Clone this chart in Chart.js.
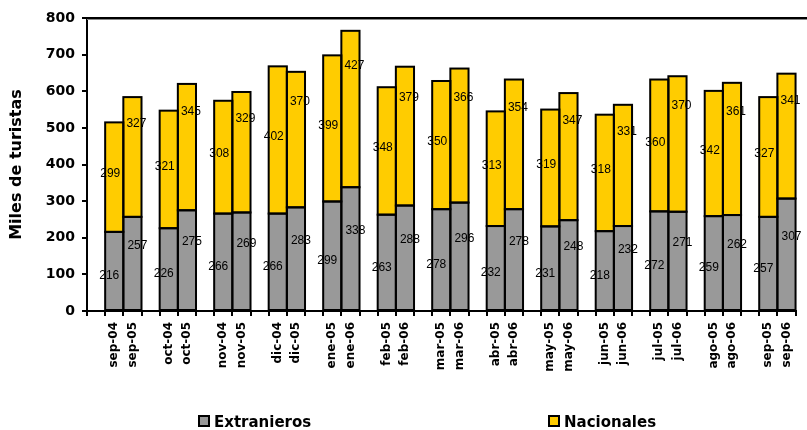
<!DOCTYPE html>
<html>
<head>
<meta charset="utf-8">
<script src="https://cdn.jsdelivr.net/npm/chart.js@4.4.1/dist/chart.umd.min.js"></script>
<style>
  html, body { margin: 0; padding: 0; background: #fff; }
  canvas { display: block; }
</style>
</head>
<body>
<canvas id="c" width="807" height="430"></canvas>
<script>
// Months compared year over year, two bars per month
const periodos = ['sep-04','sep-05','oct-04','oct-05','nov-04','nov-05','dic-04','dic-05',
  'ene-05','ene-06','feb-05','feb-06','mar-05','mar-06','abr-05','abr-06','may-05','may-06',
  'jun-05','jun-06','jul-05','jul-06','ago-05','ago-06','sep-05','sep-06'];

// Thousands of tourists
const extranjeros = [216,257,226,275,266,269,266,283,299,338,263,288,278,296,232,278,231,248,
  218,232,272,271,259,262,257,307];
const nacionales  = [299,327,321,345,308,329,402,370,399,427,348,379,350,366,313,354,319,347,
  318,331,360,370,342,361,327,341];

const seriesNames = ['Extranieros', 'Nacionales'];
const yMin = 0, yMax = 800, yStep = 100;

const GREY = '#999999', YELLOW = '#FFCC00';

// Each month pair is preceded by an empty slot so the groups stand apart
const slots = [], extSlots = [], nacSlots = [], pairPos = [];
for (let i = 0; i < periodos.length; i += 2) {
  slots.push(''); extSlots.push(null); nacSlots.push(null); pairPos.push(-1);
  for (let k = 0; k < 2; k++) {
    slots.push(periodos[i + k]);
    extSlots.push(extranjeros[i + k]);
    nacSlots.push(nacionales[i + k]);
    pairPos.push(k);
  }
}

// Black outline around every bar segment, centred on the edges
const outlinePlugin = {
  id: 'outline',
  afterDatasetsDraw(chart) {
    const ctx = chart.ctx;
    ctx.save();
    ctx.strokeStyle = '#000';
    ctx.lineWidth = 2;
    chart.data.datasets.forEach((ds, di) => {
      const meta = chart.getDatasetMeta(di);
      meta.data.forEach((el, i) => {
        if (ds.data[i] == null) return;
        const p = el.getProps(['x', 'y', 'base', 'width'], true);
        ctx.strokeRect(p.x - p.width / 2, p.y, p.width, p.base - p.y);
      });
    });
    // value labels
    ctx.fillStyle = '#000';
    ctx.font = '12px "Liberation Sans", Arial, sans-serif';
    ctx.textAlign = 'center';
    ctx.textBaseline = 'middle';
    chart.data.datasets.forEach((ds, di) => {
      const meta = chart.getDatasetMeta(di);
      meta.data.forEach((el, i) => {
        const v = ds.data[i];
        if (v == null) return;
        const p = el.getProps(['x', 'y', 'base'], true);
        const h = p.base - p.y;
        const mid = (p.y + p.base) / 2;
        const second = pairPos[i] === 1;
        let tx, ty;
        if (di === 0) {
          tx = p.x + (second ? 5 : -5);
          ty = mid + (second ? -18 : 5);
        } else {
          tx = p.x + (second ? 4 : -4);
          ty = second ? p.y + h * 0.22 : mid - 3;
        }
        ctx.fillText(String(v), tx, ty);
      });
    });
    ctx.restore();
  }
};

// Upper frame line of the plot area
const frameTopPlugin = {
  id: 'frameTop',
  afterDraw(chart) {
    const { ctx, chartArea } = chart;
    ctx.save();
    ctx.strokeStyle = '#888';
    ctx.lineWidth = 1;
    ctx.beginPath();
    ctx.moveTo(chartArea.left, chartArea.top + 1.5);
    ctx.lineTo(chart.width, chartArea.top + 1.5);
    ctx.stroke();
    ctx.strokeStyle = '#000';
    ctx.lineWidth = 2;
    ctx.beginPath();
    ctx.moveTo(chartArea.left - 1, chartArea.top);
    ctx.lineTo(chart.width, chartArea.top);
    ctx.stroke();
    ctx.restore();
  }
};

// Legend spread across the bottom of the figure
const legendPlugin = {
  id: 'spreadLegend',
  afterDraw(chart) {
    const ctx = chart.ctx;
    const items = [{ x: 199, ds: 0 }, { x: 549, ds: 1 }];
    ctx.save();
    ctx.font = 'bold 15px "DejaVu Sans", sans-serif';
    ctx.textBaseline = 'alphabetic';
    ctx.textAlign = 'left';
    items.forEach(it => {
      const ds = chart.data.datasets[it.ds];
      ctx.fillStyle = ds.backgroundColor;
      ctx.fillRect(it.x, 416, 10, 10);
      ctx.strokeStyle = '#000';
      ctx.lineWidth = 2;
      ctx.strokeRect(it.x, 416, 10, 10);
      ctx.fillStyle = '#000';
      ctx.fillText(ds.label, it.x + 15, 426.5);
    });
    ctx.restore();
  }
};

new Chart(document.getElementById('c'), {
  type: 'bar',
  data: {
    labels: slots,
    datasets: [
      { label: seriesNames[0], data: extSlots, backgroundColor: GREY, borderWidth: 0,
        barPercentage: 1, categoryPercentage: 1 },
      { label: seriesNames[1], data: nacSlots, backgroundColor: YELLOW, borderWidth: 0,
        barPercentage: 1, categoryPercentage: 1 }
    ]
  },
  options: {
    responsive: false,
    animation: false,
    layout: { padding: { left: 0, right: 10, top: 18, bottom: 0 } },
    plugins: {
      legend: { display: false },
      tooltip: { enabled: false }
    },
    scales: {
      x: {
        stacked: true,
        offset: true,
        afterFit(s) { s.height = 119; },
        grid: { offset: true, drawOnChartArea: false, drawTicks: true, tickLength: 5,
          color: '#000', lineWidth: 2 },
        border: { color: '#000', width: 2 },
        ticks: { autoSkip: false, maxRotation: 90, minRotation: 90, padding: 6, color: '#000',
          font: { family: '"DejaVu Sans", sans-serif', weight: 'bold', size: 12 } }
      },
      y: {
        stacked: true,
        min: yMin, max: yMax,
        afterFit(s) { s.width = 87; },
        grid: { drawOnChartArea: false, drawTicks: true, tickLength: 5, color: '#000', lineWidth: 2 },
        border: { color: '#000', width: 2 },
        ticks: { stepSize: yStep, padding: 7, color: '#000',
          font: { family: '"DejaVu Sans", sans-serif', weight: 'bold', size: 14 } },
        title: { display: true, text: 'Miles de turistas', color: '#000', padding: { top: 7, bottom: 0 },
          font: { family: '"DejaVu Sans", sans-serif', weight: 'bold', size: 16 } }
      }
    }
  },
  plugins: [outlinePlugin, frameTopPlugin, legendPlugin]
});
</script>
</body>
</html>
